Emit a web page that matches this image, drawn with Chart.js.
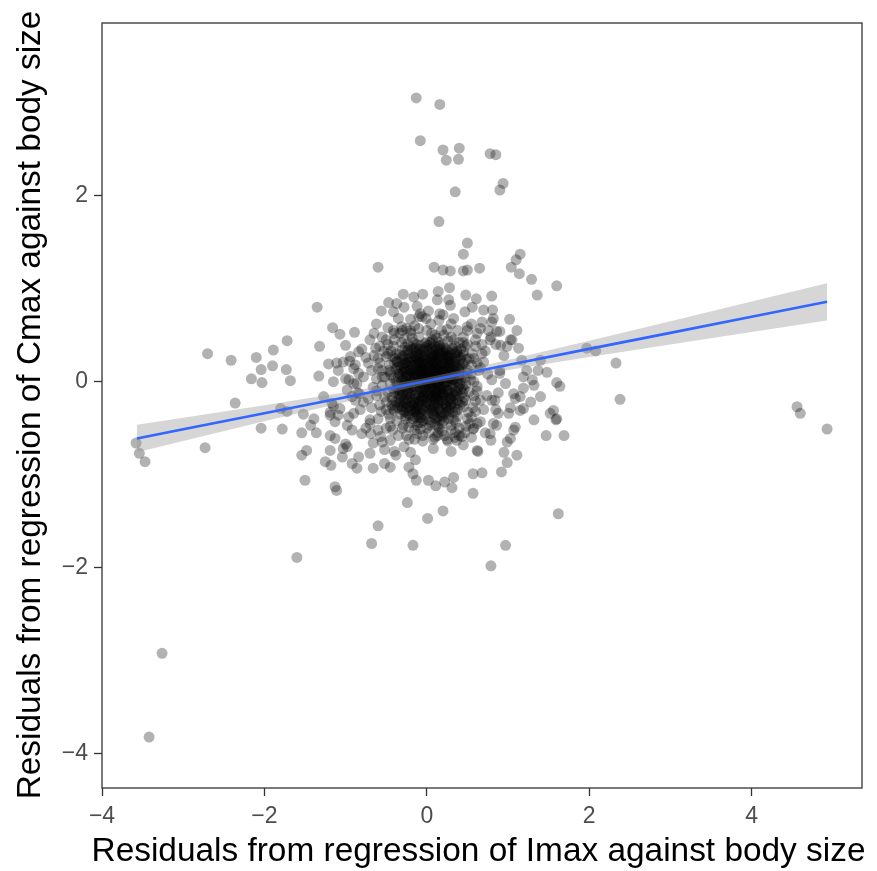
<!DOCTYPE html>
<html>
<head>
<meta charset="utf-8">
<script src="https://cdn.jsdelivr.net/npm/chart.js@4.4.1/dist/chart.umd.min.js"></script>
<style>
  html, body { margin: 0; padding: 0; background: #fff; }
  canvas { display: block; }
</style>
</head>
<body>
<canvas id="residChart" width="877" height="871"></canvas>
<script>
// scattered points (outside the dense centre)
const outerPoints = [
  [-0.13,3.05],[0.16,2.98],[-0.08,2.59],[0.2,2.49],[0.4,2.51],[0.24,2.38],[0.39,2.39],[0.78,2.45],[0.85,2.44],
  [0.94,2.13],[0.9,2.06],[0.35,2.04],[0.15,1.72],[0.5,1.49],[0.45,1.37],
  [0.09,1.23],[0.2,1.2],[0.29,1.19],[0.45,1.19],[0.5,1.2],[0.65,1.22],[-0.6,1.23],
  [1.04,1.23],[1.1,1.31],[1.15,1.37],[1.14,1.16],[1.29,1.1],[1.6,1.03],[1.36,0.93],
  [-1.35,0.8],[-0.56,0.76],[-0.47,0.85],[-0.41,0.75],[-0.29,0.94],[-0.28,0.8],[-0.16,0.91],[-0.05,0.94],[-0.12,0.81],
  [0.14,0.97],[0.28,1.01],[0.13,0.88],[0.27,0.88],[0.29,0.82],[0.16,0.73],[0.02,0.76],[-0.06,0.7],[-0.2,0.67],
  [-0.31,0.59],[-0.41,0.55],[0.48,0.93],[0.61,0.89],[0.8,0.92],[0.56,0.8],[0.7,0.77],[0.81,0.77],[1.02,0.67],
  [0.82,0.68],[0.9,0.54],[0.79,0.48],[0.66,0.57],[0.5,0.59],[-0.37,0.84],[0.47,0.75],[0.33,0.68],[0.68,0.64],
  [0.8,0.64],[0.86,0.54],[0.91,0.39],[1.11,0.55],[-0.08,0.73],[-0.01,0.68],[-0.1,0.57],[-0.33,0.52],
  [-1.72,0.44],[-1.32,0.38],[-1.16,0.58],[-1.07,0.51],[-1.0,0.39],[-0.89,0.53],[1.03,0.45],[1.13,0.36],
  [-2.7,0.3],[-2.41,0.23],[-2.1,0.26],[-2.04,0.13],[-2.16,0.03],[-2.03,-0.01],[-1.89,0.34],[-1.9,0.17],
  [-1.73,0.13],[-1.68,0.01],[-2.36,-0.23],[-2.73,-0.71],[-3.58,-0.66],[-3.54,-0.77],[-3.47,-0.86],
  [-2.04,-0.5],[-1.78,-0.51],[-1.8,-0.29],[-1.72,-0.32],[-1.54,-0.55],[-1.52,-0.35],[-1.54,-0.79],[-1.5,-1.06],
  [-0.95,0.22],[-1.11,0.2],[-1.21,0.19],[-1.33,0.06],[-1.27,-0.16],[-1.19,-0.33],[-1.15,-0.26],[-1.39,-0.4],
  [-1.36,-0.55],[-1.43,-0.47],[-1.19,-0.58],[-1.13,-0.61],[-1.19,-0.74],[-1.25,-0.86],[-1.18,-0.9],[-1.04,-0.81],
  [-0.98,-0.7],[-1.0,-0.67],[-0.92,-0.88],[-0.86,-0.93],[-1.13,-1.13],[-1.11,-1.17],
  [-1.17,-0.23],[-1.07,-0.29],[-0.96,-0.38],[-0.98,-0.47],[-0.9,-0.34],[-1.13,-0.43],[-1.09,-0.36],[-1.19,-0.36],
  [-0.98,-0.09],[-0.92,-0.16],[-0.86,-0.02],[-0.88,-0.2],[-0.83,-0.13],[-0.96,0.02],
  [-1.09,0.12],[-1.0,0.03],[-0.9,0.14],[-0.84,0.09],[-1.15,0.0],[-1.03,0.21],[-0.94,0.27],[-0.84,0.32],[-1.48,-0.74],
  [-1.6,-1.89],[-3.26,-2.92],[-3.42,-3.82],
  [-1.03,-0.72],[-0.92,-0.52],[-0.84,-0.81],[-0.7,-0.77],[-0.69,-0.56],[-0.7,-0.45],[-0.66,-0.93],
  [-0.52,-0.73],[-0.52,-0.88],[-0.45,-0.92],[-0.45,-0.63],[-0.8,-0.56],[-0.57,-0.59],[-0.66,-0.66],
  [-0.38,-0.79],[-0.2,-0.76],[-0.22,-0.92],[-0.14,-0.84],[-0.17,-0.99],[-0.13,-1.06],[0.02,-1.06],[0.11,-1.12],
  [0.22,-1.08],[0.33,-1.03],[0.31,-1.14],[0.43,-0.59],[0.26,-0.64],[0.13,-0.58],[0.57,-0.51],[0.57,-0.99],
  [0.68,-0.98],[0.63,-0.75],[0.57,-1.2],[0.78,-0.56],[0.79,-0.63],[0.86,-0.47],[0.92,-0.97],[0.99,-0.87],
  [0.95,-0.76],[0.99,-0.65],[1.03,-0.61],[1.11,-0.79],[1.09,-0.49],[1.47,-0.58],[1.69,-0.58],[1.59,-0.41],
  [0.37,-0.63],[0.62,-0.74],[1.07,-0.52],[1.01,-0.34],[1.15,-0.31],[1.32,-0.41],[1.56,-0.31],
  [-0.24,-1.3],[0.01,-1.47],[0.2,-1.39],[-0.6,-1.55],[-0.68,-1.74],[-0.17,-1.76],[0.79,-1.98],[0.97,-1.76],[1.62,-1.42],
  [1.05,0.45],[0.99,0.38],[1.17,0.23],[1.4,0.23],[1.48,0.1],[1.37,0.12],[1.19,0.05],[1.3,0.02],
  [1.32,-0.04],[1.19,-0.07],[1.09,-0.18],[1.28,-0.22],[1.19,-0.29],[1.03,-0.28],[1.4,-0.16],[1.52,-0.34],
  [1.6,-0.4],[1.6,-0.01],[1.64,-0.05],[0.82,-0.45],[0.88,-0.34],[0.84,-0.2],[0.97,-0.02],[0.9,0.09],
  [1.15,-0.16],[1.07,-0.13],[1.23,0.12],
  [1.97,0.36],[2.08,0.33],[2.33,0.2],[2.38,-0.19],[4.56,-0.27],[4.6,-0.34],[4.93,-0.51]
];

// ring around the centre, estimated
const ringPoints = [
  [-0.68,0.12],[-0.72,-0.18],[-0.63,0.36],[-0.7,-0.41],[0.7,0.21],[0.74,-0.15],[0.68,0.4],[0.66,-0.43],[-0.4,0.52],[0.38,0.55],
  [-0.35,-0.58],[0.4,-0.58],[-0.78,0.05],[0.8,0.02],[-0.66,-0.06],[0.72,0.33],[-0.55,0.48],[0.58,-0.5],[-0.15,0.6],[0.05,0.62],
  [0.25,-0.62],[-0.05,-0.64],[-0.75,0.26],[0.85,-0.3],[-0.82,-0.3],[0.78,0.45],[-0.6,-0.52],[0.5,0.55],[-0.48,0.58],[0.15,0.66],
  [-0.25,0.57],[0.3,0.62],[-0.1,0.7],[0.62,0.52],[-0.7,0.45],[0.9,0.12],[-0.88,0.18],[0.88,-0.12],[-0.85,-0.12],[0.55,-0.6],
  [-0.58,0.2],[-0.62,-0.15],[-0.55,0.05],[-0.5,-0.3],[-0.65,0.28],[-0.48,0.4],[0.58,0.25],[0.62,-0.05],[0.6,0.38],[0.55,-0.38],
  [0.66,0.15],[0.7,-0.3],[-0.3,0.55],[-0.2,0.52],[0.25,0.56],[0.45,0.48],[-0.45,-0.48],[-0.25,-0.58],[0.1,-0.6],[0.35,-0.55],
  [0.48,-0.48],[-0.15,-0.62],[0.0,0.55],[-0.5,0.45],[-0.68,-0.28],[0.75,0.08],[-0.72,0.2],[0.68,0.3],[-0.6,-0.4],[0.62,-0.45],
  [-0.78,-0.22],[0.8,-0.2],[-0.8,0.35],[0.76,0.55],[-0.65,0.52],[0.55,0.62],[-0.35,0.68],[0.2,0.72],[-0.55,-0.65],[0.45,-0.68],
  [-0.28,-0.7],[0.08,-0.72],[0.72,-0.55],[-0.9,-0.02],[0.95,0.28],[-0.75,-0.5],[0.85,0.4],[-0.62,0.62],[0.3,-0.75],[-0.4,-0.75],
  [-0.52,0.05],[-0.5,-0.22],[-0.48,0.3],[-0.55,0.12],[-0.45,-0.4],[0.55,0.08],[0.58,-0.15],[0.52,0.25],[0.6,-0.32],[0.53,-0.45],
  [0.0,-0.5],[-0.15,-0.52],[0.15,-0.5],[0.3,-0.52],[-0.3,-0.5],[0.1,0.5],[-0.1,0.48],[0.3,0.48],[-0.28,0.46],[0.45,0.42],
  [-0.56,-0.32],[0.62,0.2],[-0.05,-0.58],[0.22,-0.58],[-0.42,-0.52],[0.4,-0.5],[-0.2,0.55],[0.18,0.55],[-0.58,0.38],[0.6,0.45],
  [-0.4,0.45],[0.5,0.4],[-0.5,-0.5],[0.47,-0.55],[0.08,-0.62],[-0.22,-0.62],[0.35,-0.6],[-0.62,-0.1],[0.66,-0.2],[-0.6,0.25]
];

// dense centre, estimated (individual points cannot be told apart there)
const corePoints = [
  [0.02,0.05],[-0.11,0.12],[0.18,-0.07],[-0.25,-0.14],[0.31,0.21],[0.07,-0.29],[-0.04,0.33],[0.22,0.09],[-0.19,0.02],[0.12,-0.18],
  [-0.33,0.08],[0.41,-0.02],[0.05,0.17],[-0.08,-0.21],[0.27,-0.31],[-0.14,0.27],[0.36,0.11],[-0.29,-0.26],[0.15,0.38],[-0.02,-0.05],
  [0.09,0.01],[-0.06,-0.11],[0.24,0.27],[-0.38,0.14],[0.44,0.19],[-0.21,-0.37],[0.03,-0.41],[0.33,-0.15],[-0.12,0.4],[0.19,-0.24],
  [-0.01,0.22],[0.13,0.14],[-0.27,0.24],[0.29,0.03],[-0.16,-0.06],[0.06,-0.14],[-0.09,0.06],[0.38,-0.23],[-0.35,-0.09],[0.21,-0.42],
  [0.47,0.04],[-0.42,-0.2],[0.11,0.29],[-0.23,0.34],[0.01,-0.23],[0.17,0.21],[-0.31,0.01],[0.26,-0.09],[-0.05,0.14],[0.08,-0.35],
  [-0.18,-0.3],[0.34,0.31],[-0.44,0.07],[0.52,-0.11],[0.0,0.0],[-0.07,-0.17],[0.14,0.06],[-0.24,-0.03],[0.23,0.15],[-0.13,0.19],
  [0.04,0.26],[0.3,-0.19],[-0.34,0.29],[0.1,-0.46],[-0.2,0.13],[0.4,0.07],[-0.03,-0.31],[0.16,-0.03],[-0.28,-0.19],[0.2,0.33],
  [-0.1,-0.44],[0.49,0.24],[-0.4,-0.31],[0.06,0.41],[0.28,0.18],[-0.15,-0.22],[0.35,-0.33],[-0.22,0.21],[0.12,-0.09],[-0.04,0.09],
  [0.01,-0.12],[-0.17,0.08],[0.25,-0.21],[-0.3,-0.12],[0.19,0.02],[-0.08,0.3],[0.42,-0.08],[-0.46,0.18],[0.07,0.12],[0.32,0.36],
  [-0.12,-0.35],[0.15,-0.29],[-0.26,0.11],[0.09,0.21],[-0.36,-0.02],[0.45,-0.27],[-0.01,0.37],[0.22,-0.15],[-0.19,-0.1],[0.03,0.07],
  [0.11,-0.02],[-0.05,0.02],[0.27,0.06],[-0.14,-0.14],[0.37,-0.13],[-0.24,0.18],[0.05,-0.2],[0.18,0.25],[-0.33,-0.23],[0.14,-0.38],
  [-0.09,0.24],[0.3,0.13],[-0.41,-0.08],[0.5,0.09],[-0.02,-0.27],[0.21,-0.05],[-0.17,0.31],[0.08,0.33],[-0.27,-0.32],[0.39,0.28],
  [0.04,-0.08],[-0.1,-0.02],[0.16,0.1],[-0.21,0.05],[0.24,-0.26],[-0.07,-0.39],[0.33,0.02],[-0.37,0.22],[0.12,0.18],[-0.15,0.36],
  [0.46,-0.17],[-0.48,-0.11],[0.02,0.15],[0.19,-0.33],[-0.25,-0.24],[0.35,0.22],[-0.11,-0.27],[0.27,-0.4],[-0.3,0.06],[0.06,0.03],
  [-0.04,-0.16],[0.14,0.3],[-0.19,-0.44],[0.43,0.14],[-0.34,0.12],[0.1,-0.25],[-0.06,0.19],[0.25,0.2],[-0.23,-0.08],[0.31,-0.06],
  [0.0,0.11],[-0.13,0.03],[0.2,-0.12],[-0.28,0.28],[0.09,-0.03],[0.37,0.33],[-0.43,-0.25],[0.54,0.02],[-0.16,0.16],[0.13,-0.48],
  [-0.08,-0.07],[0.23,0.04],[-0.32,-0.16],[0.05,0.24],[0.29,-0.25],[-0.2,0.37],[0.41,0.17],[-0.02,-0.36],[0.16,0.39],[-0.38,0.0],
  [0.07,-0.16],[-0.12,0.14],[0.26,-0.14],[-0.22,-0.27],[0.34,0.08],[-0.05,0.28],[0.17,-0.21],[-0.29,0.18],[0.48,-0.2],[-0.45,0.1],
  [0.12,0.06],[-0.01,-0.1],[0.28,0.26],[-0.17,-0.19],[0.03,0.35],[-0.36,-0.28],[0.44,-0.05],[0.1,-0.32],[-0.26,0.04],[0.2,0.12],
  [-0.07,0.1],[0.15,-0.1],[-0.14,-0.33],[0.32,0.16],[-0.39,0.25],[0.05,-0.44],[0.24,0.34],[-0.1,0.21],[0.38,-0.3],[-0.23,-0.13],
  [0.55,0.18],[-0.52,-0.16],[0.6,-0.21],[-0.5,0.27],[0.47,0.38],[-0.55,-0.04],[0.12,0.47],[-0.08,-0.51],[0.3,-0.47],[-0.31,0.42],
  [0.58,0.0],[-0.47,-0.35],[0.4,0.42],[-0.41,0.38],[0.21,0.5],[0.19,-0.53],[-0.22,-0.49],[0.64,0.12],[-0.6,0.14],[0.02,-0.55],
  [0.51,-0.33],[-0.37,-0.42],[0.36,-0.44],[-0.18,0.47],[0.06,0.52],[0.56,0.3],[-0.58,-0.25],[0.45,0.32],[-0.53,0.33],[0.62,-0.1],
  [0.0,0.43],[-0.29,-0.47],[0.26,0.44],[0.5,-0.4],[-0.44,0.33],[0.57,-0.28],[-0.62,0.03],[0.33,0.45],[-0.12,-0.56],[0.14,-0.55],
  [0.03,-0.02],[-0.03,0.04],[0.1,0.09],[-0.08,-0.09],[0.06,0.19],[0.15,-0.15],[-0.15,0.1],[0.22,-0.01],[-0.21,-0.17],[0.18,0.17],
  [-0.06,0.16],[0.08,-0.22],[0.29,0.1],[-0.3,-0.06],[0.11,0.24],[-0.11,-0.24],[0.35,-0.1],[-0.26,0.2],[0.04,-0.3],[0.25,0.29],
  [-0.02,0.29],[0.13,0.0],[-0.18,-0.04],[0.2,-0.27],[-0.09,0.35],[0.32,-0.22],[-0.33,0.17],[0.09,0.14],[-0.13,-0.3],[0.27,0.23],
  [0.01,0.19],[-0.24,0.08],[0.17,-0.13],[0.05,-0.06],[-0.16,-0.25],[0.39,0.04],[-0.05,-0.19],[0.23,0.07],[-0.28,-0.33],[0.14,0.35],
  [-0.1,0.0],[0.07,0.08],[0.3,-0.03],[-0.2,0.26],[0.12,-0.4],[-0.35,-0.13],[0.42,0.26],[-0.04,0.23],[0.19,-0.17],[-0.14,-0.38],
  [0.09,0.27],[-0.27,-0.01],[0.24,-0.33],[-0.07,0.13],[0.16,0.04],[0.02,-0.14],[-0.19,0.22],[0.34,0.19],[-0.32,-0.22],[0.11,-0.11],
  [0.06,-0.04],[-0.15,0.05],[0.21,0.11],[-0.02,-0.19],[0.33,-0.04],[-0.27,0.15],[0.12,0.22],[-0.09,-0.29],[0.28,-0.17],[-0.2,-0.21],
  [0.04,0.31],[-0.32,-0.04],[0.17,-0.36],[-0.12,0.25],[0.4,0.12],[-0.05,-0.42],[0.23,0.36],[-0.37,0.3],[0.01,0.04],[0.14,-0.07],
  [-0.24,-0.11],[0.36,0.27],[-0.16,0.42],[0.08,-0.27],[0.26,0.0],[-0.03,0.18],[-0.3,-0.3],[0.44,-0.12],[0.1,0.38],[-0.11,-0.13],
  [0.19,-0.45],[-0.41,0.04],[0.31,0.34],[-0.07,0.07],[0.02,-0.34],[0.24,0.12],[-0.18,0.18],[0.38,-0.37],[-0.26,-0.4],[0.13,0.27],
  [-0.01,0.01],[0.17,0.17],[-0.13,-0.18],[0.29,-0.29],[-0.36,0.21],[0.07,0.45],[-0.21,-0.31],[0.46,0.2],[-0.06,-0.25],[0.2,-0.2],
  [0.05,0.12],[-0.09,0.28],[0.34,0.02],[-0.25,0.0],[0.11,-0.13],[-0.17,-0.4],[0.42,0.35],[-0.43,-0.17],[0.16,0.31],[-0.04,-0.08],
  [0.27,0.16],[-0.31,0.24],[0.0,-0.22],[0.22,-0.35],[-0.14,0.13],[0.09,0.05],[-0.22,0.3],[0.37,-0.2],[-0.39,-0.26],[0.14,-0.01],
  [-0.08,0.39],[0.3,0.29],[-0.19,-0.01],[0.03,0.16],[0.25,-0.09],[-0.29,0.1],[0.48,-0.03],[-0.12,-0.47],[0.18,0.06],[-0.02,0.33],
  [0.1,-0.19],[-0.23,0.16],[0.32,0.08],[-0.1,-0.36],[0.06,0.25],[-0.34,-0.18],[0.41,-0.25],[0.0,0.08],[0.2,0.4],[-0.16,0.01],
  [0.13,-0.27],[-0.05,0.11],[0.35,0.38],[-0.28,-0.22],[0.08,0.18],[-0.42,0.27],[0.27,-0.36],[-0.13,0.32],[0.05,-0.11],[0.22,0.21],
  [-0.07,-0.03],[0.15,0.13],[-0.25,-0.28],[0.39,0.15],[-0.01,-0.4],[0.29,0.04],[-0.35,0.05],[0.11,0.34],[-0.2,0.09],[0.18,-0.09],
  [0.04,-0.25],[-0.14,0.22],[0.31,-0.12],[-0.3,0.34],[0.08,0.02],[0.43,0.07],[-0.09,-0.15],[0.24,0.24],[-0.4,-0.12],[0.16,-0.42],
  [-0.03,0.26],[0.21,-0.03],[-0.18,-0.26],[0.34,-0.27],[0.02,0.39],[-0.23,0.41],[0.12,0.1],[-0.11,0.0],[0.45,0.29],[-0.33,-0.35],
  [0.07,-0.07],[-0.06,0.2],[0.26,0.32],[-0.21,-0.07],[0.14,-0.23],[-0.45,-0.02],[0.37,0.0],[-0.15,0.27],[0.01,-0.17],[0.19,0.28],
  [-0.27,0.2],[0.1,-0.39],[0.3,0.19],[-0.08,-0.33],[0.05,0.07],[-0.37,-0.07],[0.23,-0.24],[-0.02,0.41],[0.4,-0.16],[-0.17,0.11],
  [0.15,0.03],[-0.12,-0.09],[0.28,0.1],[-0.22,-0.35],[0.0,0.24],[0.33,-0.41],[-0.29,0.02],[0.17,0.36],[-0.05,-0.3],[0.09,-0.15],
  [0.12,0.14],[-0.04,-0.01],[0.2,-0.14],[-0.23,0.25],[0.36,0.16],[-0.1,-0.21],[0.06,0.36],[-0.3,-0.15],[0.25,-0.28],[-0.16,0.06],
  [0.5,0.13],[-0.47,0.12],[0.03,-0.47],[0.14,0.43],[-0.26,-0.37],[0.32,-0.33],[-0.13,0.37],[0.21,0.04],[-0.07,-0.44],[0.44,-0.22],
  [-0.01,0.13],[0.17,-0.05],[-0.2,-0.14],[0.27,0.27],[-0.34,0.09],[0.08,-0.31],[-0.09,0.17],[0.39,-0.06],[-0.24,0.33],[0.13,-0.16],
  [0.03,0.21],[-0.15,-0.05],[0.29,-0.18],[-0.38,-0.22],[0.19,0.2],[-0.06,0.04],[0.35,0.25],[-0.27,0.37],[0.1,-0.09],[0.0,-0.29],
  [0.22,0.17],[-0.11,0.29],[0.46,-0.08],[-0.42,-0.29],[0.07,0.3],[-0.19,-0.23],[0.31,0.01],[-0.03,-0.12],[0.16,-0.31],[-0.28,0.13],
  [0.11,0.08],[-0.08,0.12],[0.24,-0.04],[-0.17,0.24],[0.37,0.31],[-0.31,-0.27],[0.05,-0.18],[0.2,0.31],[-0.14,-0.29],[0.42,0.02],
  [-0.05,0.35],[0.13,0.19],[-0.22,-0.02],[0.3,-0.24],[-0.36,0.16],[0.02,0.1],[0.27,-0.12],[-0.12,0.08],[0.09,-0.36],[-0.25,0.06],
  [0.18,0.1],[-0.02,-0.07],[0.34,0.12],[-0.18,0.35],[0.06,-0.01],[-0.4,0.2],[0.23,0.29],[-0.09,-0.39],[0.38,-0.1],[-0.21,0.12],
  [0.15,0.25],[-0.06,-0.2],[0.29,0.22],[-0.33,-0.1],[0.1,0.16],[-0.15,-0.32],[0.41,0.23],[0.01,-0.02],[0.2,-0.38],[-0.27,-0.05],
  [0.08,0.28],[-0.1,0.19],[0.25,0.08],[-0.24,-0.19],[0.35,-0.15],[-0.04,0.05],[0.14,-0.2],[-0.3,0.27],[0.04,0.42],[0.31,0.07]
];

// linear fit and its confidence band, read at a few x positions
const fitX     = [-3.57, -3, -2, -1, 0, 1, 2, 3, 4, 4.93];
const fitY     = [-0.611, -0.512, -0.34, -0.167, 0.006, 0.179, 0.352, 0.524, 0.697, 0.858];
const fitUpper = [-0.464, -0.387, -0.253, -0.114, 0.041, 0.232, 0.439, 0.649, 0.861, 1.058];
const fitLower = [-0.758, -0.637, -0.427, -0.22, -0.029, 0.126, 0.265, 0.399, 0.533, 0.658];

const xTicks = [-4, -2, 0, 2, 4];
const yTicks = [-4, -2, 0, 2];

const xTitle = 'Residuals from regression of Imax against body size';
const yTitle = 'Residuals from regression of Cmax against body size';

const toXY = (xs, ys) => xs.map((x, i) => ({x: x, y: ys[i]}));
const pairs = arr => arr.map(p => ({x: p[0], y: p[1]}));
const minus = v => String(v).replace('-', '\u2212');

const fontFamily = '"Liberation Sans", Arial, sans-serif';

// panel border plus axis titles (drawn here so they are not squeezed to the axis length)
const frame = {
  id: 'frame',
  afterDraw(chart) {
    const {ctx, chartArea: a} = chart;
    ctx.save();
    ctx.strokeStyle = '#333333';
    ctx.lineWidth = 1.3;
    ctx.strokeRect(a.left, a.top, a.right - a.left, a.bottom - a.top);

    ctx.fillStyle = '#000000';
    ctx.font = '33.4px ' + fontFamily;
    ctx.textAlign = 'center';
    ctx.textBaseline = 'alphabetic';
    ctx.fillText(xTitle, 478.5, 861);

    ctx.translate(40, 405);
    ctx.rotate(-Math.PI / 2);
    ctx.fillText(yTitle, 0, 0);
    ctx.restore();
  }
};

const ctx = document.getElementById('residChart').getContext('2d');
const residChart = new Chart(ctx, {
  type: 'scatter',
  data: {
    datasets: [
      {
        label: 'fit',
        data: toXY(fitX, fitY),
        showLine: true,
        borderColor: '#3366FF',
        borderWidth: 2.6,
        pointRadius: 0,
        fill: false
      },
      {
        label: 'upper',
        data: toXY(fitX, fitUpper),
        showLine: true,
        borderWidth: 0,
        borderColor: 'rgba(0,0,0,0)',
        pointRadius: 0,
        backgroundColor: 'rgba(153,153,153,0.4)',
        fill: '+1'
      },
      {
        label: 'lower',
        data: toXY(fitX, fitLower),
        showLine: true,
        borderWidth: 0,
        borderColor: 'rgba(0,0,0,0)',
        pointRadius: 0,
        fill: false
      },
      {
        label: 'points',
        data: pairs(outerPoints).concat(pairs(ringPoints), pairs(corePoints)),
        backgroundColor: 'rgba(0,0,0,0.3)',
        borderWidth: 0,
        pointRadius: 5.5,
        pointHoverRadius: 5.5
      }
    ]
  },
  options: {
    responsive: false,
    animation: false,
    events: [],
    layout: { padding: { top: 23, right: 15, left: 0, bottom: 0 } },
    plugins: {
      legend: { display: false },
      tooltip: { enabled: false }
    },
    scales: {
      x: {
        type: 'linear',
        min: -4,
        max: 5.36,
        afterBuildTicks: s => { s.ticks = xTicks.map(v => ({value: v})); },
        afterFit: s => { s.height = 83; },
        border: { display: false },
        grid: { drawOnChartArea: false, drawTicks: true, tickLength: 8, tickWidth: 1.3, tickColor: '#333333' },
        ticks: {
          padding: 7,
          color: '#4d4d4d',
          font: { family: fontFamily, size: 23 },
          callback: v => minus(v)
        }
      },
      y: {
        type: 'linear',
        min: -4.368,
        max: 3.855,
        afterBuildTicks: s => { s.ticks = yTicks.map(v => ({value: v})); },
        afterFit: s => { s.width = 102; },
        border: { display: false },
        grid: { drawOnChartArea: false, drawTicks: true, tickLength: 8, tickWidth: 1.3, tickColor: '#333333' },
        ticks: {
          padding: 6,
          color: '#4d4d4d',
          font: { family: fontFamily, size: 23 },
          callback: v => minus(v)
        }
      }
    }
  },
  plugins: [frame]
});
</script>
</body>
</html>
